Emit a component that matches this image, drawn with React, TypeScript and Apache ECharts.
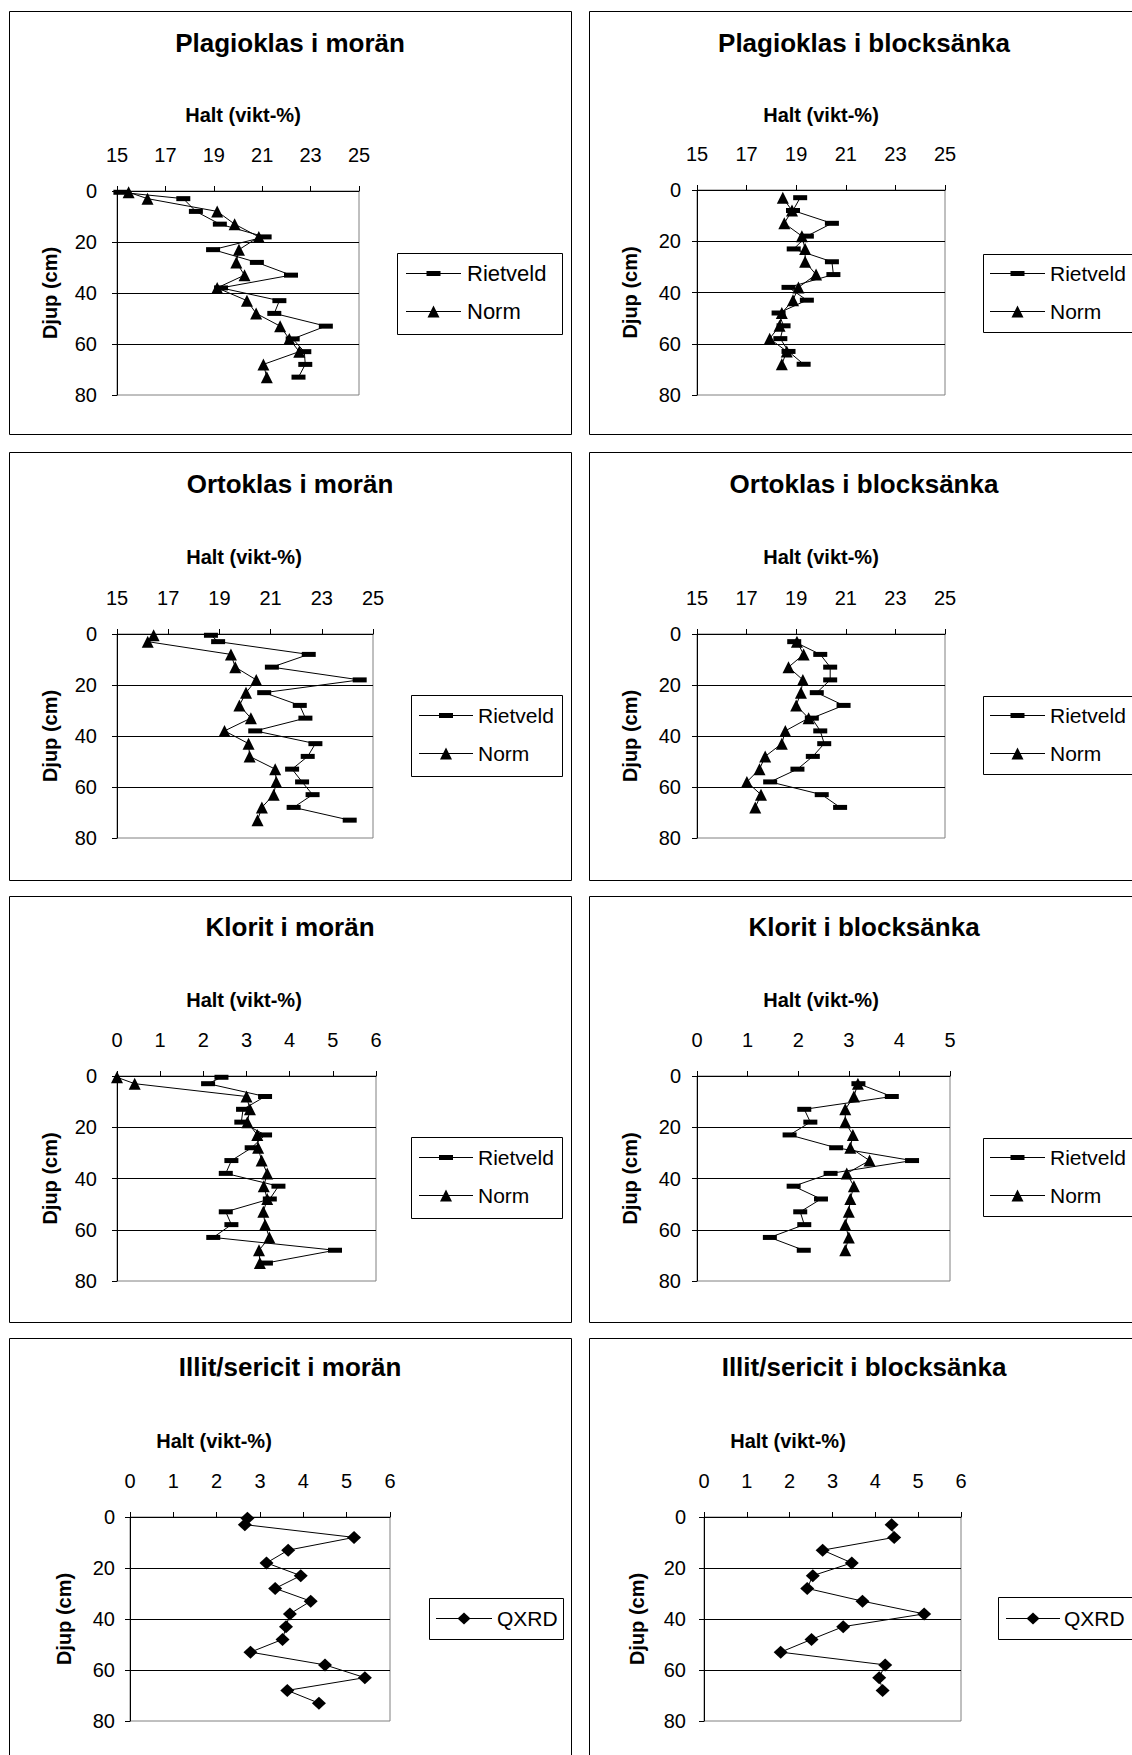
import React, { useEffect, useRef } from "react";
import * as echarts from "echarts";

const FONT = 'Arial, "Liberation Sans", Helvetica, sans-serif';

// ---- data ----
const depthMoran = [0.5, 3, 8, 13, 18, 23, 28, 33, 38, 43, 48, 53, 58, 63, 68, 73];
const depthBlock = [3, 8, 13, 18, 23, 28, 33, 38, 43, 48, 53, 58, 63, 68];

const plagMoranRietveld = [15.14, 17.74, 18.26, 19.25, 21.1, 18.97, 20.78, 22.19, 19.3, 21.71, 21.5, 23.63, 22.26, 22.74, 22.78, 22.5];
const plagMoranNorm = [15.48, 16.26, 19.14, 19.86, 20.86, 20.04, 19.93, 20.27, 19.14, 20.37, 20.75, 21.74, 22.12, 22.53, 21.05, 21.19];

const plagBlockRietveld = [19.16, 18.87, 20.44, 19.43, 18.9, 20.44, 20.5, 18.69, 19.43, 18.29, 18.49, 18.36, 18.69, 19.3];
const plagBlockNorm = [18.46, 18.83, 18.52, 19.23, 19.36, 19.36, 19.8, 19.09, 18.87, 18.42, 18.33, 17.93, 18.62, 18.42];

const ortoMoranRietveld = [18.67, 18.95, 22.49, 21.05, 24.48, 20.75, 22.14, 22.36, 20.4, 22.75, 22.45, 21.84, 22.23, 22.64, 21.9, 24.09];
const ortoMoranNorm = [16.43, 16.2, 19.45, 19.62, 20.44, 20.04, 19.78, 20.23, 19.2, 20.14, 20.18, 21.18, 21.22, 21.12, 20.66, 20.49];

const ortoBlockRietveld = [18.92, 19.97, 20.37, 20.37, 19.83, 20.91, 19.63, 19.97, 20.13, 19.67, 19.05, 17.95, 20.03, 20.77];
const ortoBlockNorm = [19.03, 19.3, 18.69, 19.27, 19.19, 19.0, 19.5, 18.56, 18.42, 17.75, 17.52, 17.01, 17.58, 17.35];

const kloritMoranRietveld = [2.42, 2.11, 3.43, 2.92, 2.88, 3.43, 3.12, 2.65, 2.52, 3.74, 3.54, 2.52, 2.65, 2.23, 5.05, 3.45];
const kloritMoranNorm = [0.0, 0.41, 3.0, 3.08, 3.02, 3.25, 3.27, 3.35, 3.48, 3.4, 3.48, 3.39, 3.43, 3.53, 3.29, 3.31];

const kloritBlockRietveld = [3.19, 3.85, 2.12, 2.24, 1.83, 2.75, 4.25, 2.64, 1.91, 2.45, 2.04, 2.12, 1.44, 2.11];
const kloritBlockNorm = [3.18, 3.1, 2.93, 2.93, 3.08, 3.03, 3.41, 2.96, 3.1, 3.03, 3.0, 2.93, 3.0, 2.93];

const illitMoranQXRD = [2.71, 2.65, 5.17, 3.65, 3.15, 3.94, 3.35, 4.17, 3.69, 3.6, 3.52, 2.78, 4.5, 5.42, 3.63, 4.36];
const illitBlockQXRD = [4.38, 4.44, 2.77, 3.45, 2.54, 2.41, 3.7, 5.14, 3.25, 2.51, 1.79, 4.23, 4.09, 4.17];

const ticksFeldspar = [15, 17, 19, 21, 23, 25];
const ticksSix = [0, 1, 2, 3, 4, 5, 6];
const ticksFive = [0, 1, 2, 3, 4, 5];
const depthTicks = [0, 20, 40, 60, 80];

const titles = [
  "Plagioklas i morän",
  "Plagioklas i blocksänka",
  "Ortoklas i morän",
  "Ortoklas i blocksänka",
  "Klorit i morän",
  "Klorit i blocksänka",
  "Illit/sericit i morän",
  "Illit/sericit i blocksänka",
];
const xAxisTitle = "Halt (vikt-%)";
const yAxisTitle = "Djup (cm)";

type Kind = "dash" | "triangle" | "diamond";
interface Ser { name: string; kind: Kind; depth: number[]; values: number[] }

const riet = (v: number[], d: number[]): Ser => ({ name: "Rietveld", kind: "dash", depth: d, values: v });
const norm = (v: number[], d: number[]): Ser => ({ name: "Norm", kind: "triangle", depth: d, values: v });
const qxrd = (v: number[], d: number[]): Ser => ({ name: "QXRD", kind: "diamond", depth: d, values: v });

// ---- layout ----
const rowTops = [11, 452, 896, 1338];
const rowBottoms = [434, 880, 1322, 1800];
const titleYs = [42.5, 484, 927, 1367];
const haltYs = [115, 556.5, 1000, 1441];

interface Panel {
  col: number; row: number;
  grid: { left: number; top: number; width: number; height: number };
  ticks: number[];
  series: Ser[];
  djupX: number;
  haltX: number;
  yMargin: number;
  legendFont: number;
  legend: { x: number; y: number; w: number; h: number; lx1: number; lx2: number; tx: number; rows: number[] };
}

const panels: Panel[] = [
  {
    col: 0, row: 0, grid: { left: 117, top: 191, width: 242, height: 204 }, ticks: ticksFeldspar,
    series: [riet(plagMoranRietveld, depthMoran), norm(plagMoranNorm, depthMoran)], djupX: 50, haltX: 243, yMargin: 20, legendFont: 22,
    legend: { x: 397, y: 253, w: 165, h: 81, lx1: 406, lx2: 461, tx: 467, rows: [273, 311] },
  },
  {
    col: 1, row: 0, grid: { left: 697, top: 190, width: 248, height: 205 }, ticks: ticksFeldspar,
    series: [riet(plagBlockRietveld, depthBlock), norm(plagBlockNorm, depthBlock)], djupX: 630, haltX: 821, yMargin: 16, legendFont: 21,
    legend: { x: 983, y: 254, w: 200, h: 78, lx1: 990, lx2: 1045, tx: 1050, rows: [273, 311] },
  },
  {
    col: 0, row: 1, grid: { left: 117, top: 634, width: 256, height: 204 }, ticks: ticksFeldspar,
    series: [riet(ortoMoranRietveld, depthMoran), norm(ortoMoranNorm, depthMoran)], djupX: 50, haltX: 244, yMargin: 20, legendFont: 21,
    legend: { x: 411, y: 695, w: 151, h: 81, lx1: 419, lx2: 473, tx: 478, rows: [715, 753] },
  },
  {
    col: 1, row: 1, grid: { left: 697, top: 634, width: 248, height: 204 }, ticks: ticksFeldspar,
    series: [riet(ortoBlockRietveld, depthBlock), norm(ortoBlockNorm, depthBlock)], djupX: 630, haltX: 821, yMargin: 16, legendFont: 21,
    legend: { x: 983, y: 696, w: 200, h: 78, lx1: 990, lx2: 1045, tx: 1050, rows: [715, 753] },
  },
  {
    col: 0, row: 2, grid: { left: 117, top: 1076, width: 259, height: 205 }, ticks: ticksSix,
    series: [riet(kloritMoranRietveld, depthMoran), norm(kloritMoranNorm, depthMoran)], djupX: 50, haltX: 244, yMargin: 20, legendFont: 21,
    legend: { x: 411, y: 1137, w: 151, h: 81, lx1: 419, lx2: 473, tx: 478, rows: [1157, 1195] },
  },
  {
    col: 1, row: 2, grid: { left: 697, top: 1076, width: 253, height: 205 }, ticks: ticksFive,
    series: [riet(kloritBlockRietveld, depthBlock), norm(kloritBlockNorm, depthBlock)], djupX: 630, haltX: 821, yMargin: 16, legendFont: 21,
    legend: { x: 983, y: 1138, w: 200, h: 78, lx1: 990, lx2: 1045, tx: 1050, rows: [1157, 1195] },
  },
  {
    col: 0, row: 3, grid: { left: 130, top: 1517, width: 260, height: 204 }, ticks: ticksSix,
    series: [qxrd(illitMoranQXRD, depthMoran)], djupX: 64, haltX: 214, yMargin: 15, legendFont: 21,
    legend: { x: 429, y: 1598, w: 134, h: 41, lx1: 436, lx2: 492, tx: 497, rows: [1618] },
  },
  {
    col: 1, row: 3, grid: { left: 704, top: 1517, width: 257, height: 204 }, ticks: ticksSix,
    series: [qxrd(illitBlockQXRD, depthBlock)], djupX: 637, haltX: 788, yMargin: 18, legendFont: 21,
    legend: { x: 998, y: 1597, w: 200, h: 42, lx1: 1006, lx2: 1060, tx: 1064, rows: [1618] },
  },
];

const symbolFor = (k: Kind): { symbol: string; size: number | number[] } =>
  k === "dash" ? { symbol: "rect", size: [14, 5] } : k === "triangle" ? { symbol: "triangle", size: [12, 12] } : { symbol: "diamond", size: [14, 13] };

function markerGraphic(k: Kind, cx: number, cy: number) {
  if (k === "dash") return { type: "rect", shape: { x: cx - 7, y: cy - 2.5, width: 14, height: 5 }, style: { fill: "#000" }, z: 12 };
  if (k === "triangle")
    return { type: "polygon", shape: { points: [[cx, cy - 6], [cx + 6, cy + 6], [cx - 6, cy + 6]] }, style: { fill: "#000" }, z: 12 };
  return { type: "polygon", shape: { points: [[cx, cy - 6], [cx + 6.5, cy], [cx, cy + 6], [cx - 6.5, cy]] }, style: { fill: "#000" }, z: 12 };
}

function txt(text: string, x: number, y: number, size: number, bold: boolean, align = "center", rotation = 0) {
  return {
    type: "text", x, y, rotation, z: 12,
    style: {
      text, fill: "#000", fontSize: size, fontWeight: bold ? "bold" : "normal", fontFamily: FONT,
      align, verticalAlign: "middle", textAlign: align, textVerticalAlign: "middle",
    },
  };
}

function buildOption() {
  const grid: any[] = [];
  const xAxis: any[] = [];
  const yAxis: any[] = [];
  const series: any[] = [];
  const graphic: any[] = [];

  panels.forEach((p, i) => {
    const frameX = p.col === 0 ? 9.5 : 589.5;
    const frameW = p.col === 0 ? 562 : 600;
    graphic.push({
      type: "rect", z: 1,
      shape: { x: frameX, y: rowTops[p.row] + 0.5, width: frameW, height: rowBottoms[p.row] - rowTops[p.row] },
      style: { fill: "none", stroke: "#000", lineWidth: 1 },
    });
    graphic.push(txt(titles[i], p.col === 0 ? 290 : 864, titleYs[p.row], 26, true));
    graphic.push(txt(xAxisTitle, p.haltX, haltYs[p.row], 20, true));
    graphic.push(txt(yAxisTitle, p.djupX, p.grid.top + p.grid.height / 2, 20, true, "center", Math.PI / 2));

    const L = p.legend;
    graphic.push({ type: "rect", z: 10, shape: { x: L.x + 0.5, y: L.y + 0.5, width: L.w, height: L.h }, style: { fill: "#fff", stroke: "#000", lineWidth: 1 } });
    p.series.forEach((s, k) => {
      const cy = L.rows[k];
      graphic.push({ type: "line", z: 11, shape: { x1: L.lx1, y1: cy + 0.5, x2: L.lx2, y2: cy + 0.5 }, style: { stroke: "#000", lineWidth: 1 } });
      graphic.push(markerGraphic(s.kind, (L.lx1 + L.lx2) / 2, cy + 0.5));
      graphic.push(txt(s.name, L.tx, cy, p.legendFont, false, "left"));
    });

    grid.push({ ...p.grid, show: true, borderColor: "#808080", borderWidth: 1, backgroundColor: "transparent", containLabel: false });
    const xmin = p.ticks[0];
    const xmax = p.ticks[p.ticks.length - 1];
    xAxis.push({
      gridIndex: i, type: "value", position: "top", min: xmin, max: xmax, interval: 1,
      axisLine: { show: true, onZero: false, lineStyle: { color: "#000", width: 1 } },
      axisTick: { show: true, inside: false, length: 5, lineStyle: { color: "#000", width: 1 }, customValues: p.ticks },
      axisLabel: { show: true, margin: 26, color: "#000", fontSize: 20, fontFamily: FONT, lineHeight: 20, customValues: p.ticks },
      splitLine: { show: false },
    });
    yAxis.push({
      gridIndex: i, type: "value", inverse: true, min: depthTicks[0], max: depthTicks[depthTicks.length - 1], interval: 20,
      axisLine: { show: true, onZero: false, lineStyle: { color: "#000", width: 1 } },
      axisTick: { show: true, inside: false, length: 5, lineStyle: { color: "#000", width: 1 } },
      axisLabel: { show: true, margin: p.yMargin, color: "#000", fontSize: 20, fontFamily: FONT },
      splitLine: { show: true, showMinLine: false, showMaxLine: false, lineStyle: { color: "#000", width: 1 } },
    });
    p.series.forEach((s) => {
      const sym = symbolFor(s.kind);
      series.push({
        type: "line", name: s.name, xAxisIndex: i, yAxisIndex: i,
        data: s.depth.map((d, j) => [s.values[j], d]),
        symbol: sym.symbol, symbolSize: sym.size, showSymbol: true, showAllSymbol: true,
        lineStyle: { color: "#000", width: 1 }, itemStyle: { color: "#000", borderWidth: 0 },
        clip: false, silent: true, emphasis: { disabled: true },
      });
    });
  });

  return {
    animation: false,
    backgroundColor: "#fff",
    textStyle: { fontFamily: FONT },
    grid, xAxis, yAxis, series, graphic,
  };
}

export default function App() {
  const ref = useRef<HTMLDivElement>(null);
  useEffect(() => {
    document.body.style.margin = "0";
    const chart = echarts.init(ref.current!, undefined, { renderer: "svg" });
    chart.setOption(buildOption() as any);
    return () => chart.dispose();
  }, []);
  return <div ref={ref} style={{ position: "absolute", left: 0, top: 0, width: 1132, height: 1755 }} />;
}
